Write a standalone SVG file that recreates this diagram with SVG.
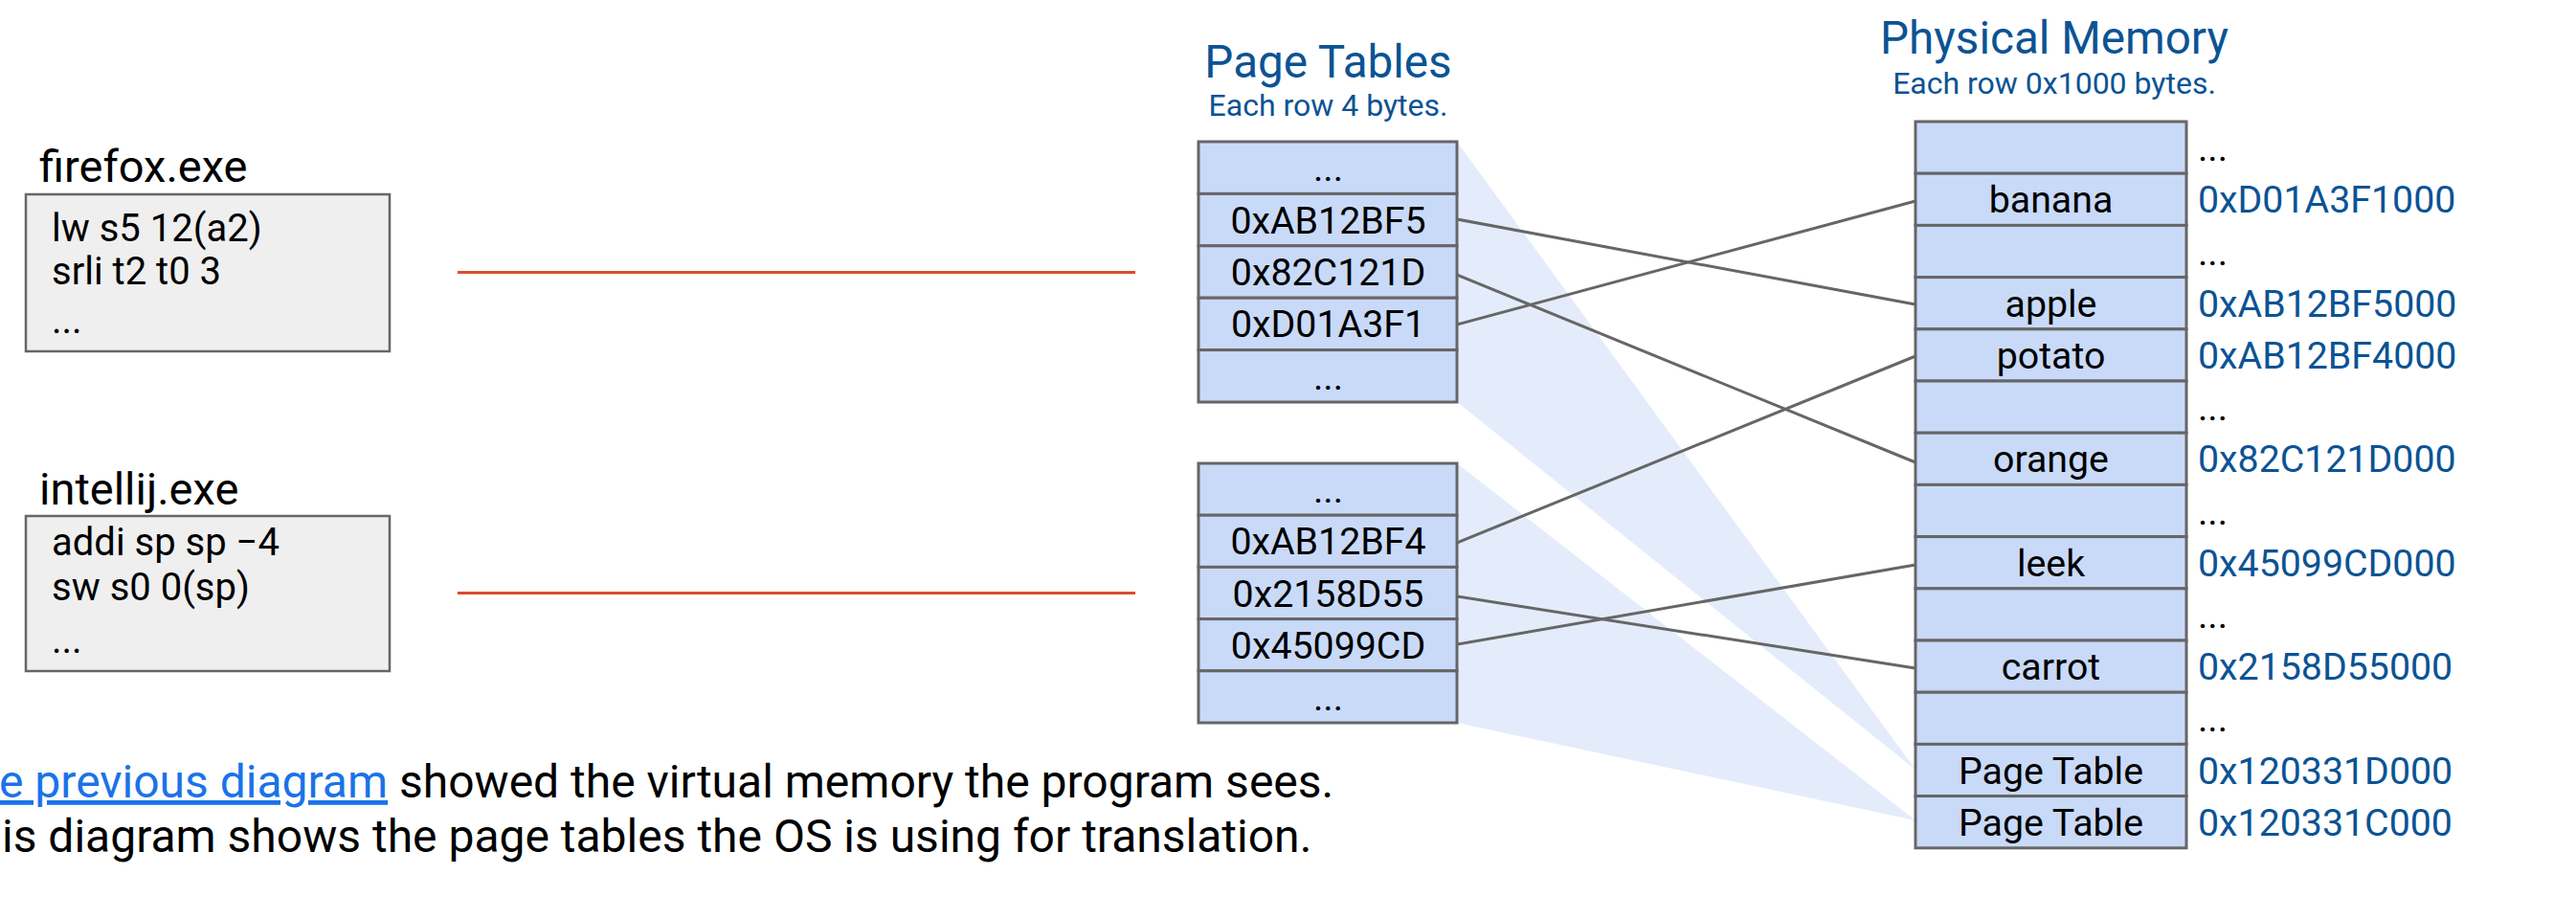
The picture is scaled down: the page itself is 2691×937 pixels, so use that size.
<svg xmlns="http://www.w3.org/2000/svg" width="2691" height="937" viewBox="0 0 2691 937">
<style>
text{font-family:Roboto,"Liberation Sans",sans-serif;fill:#000}
.cell{fill:#c9daf8;stroke:#666;stroke-width:3}
.box{fill:#efefef;stroke:#666;stroke-width:2.5}
.t39{font-size:39.3px}
.mid{text-anchor:middle}
.blue{fill:#0b5394}
.title{font-size:47.6px}
.sub{font-size:32px}
.conn{stroke:#666;stroke-width:3;fill:none}
.red{stroke:#dd4b2f;stroke-width:3;fill:none}
.wedge{fill:#c9daf8;opacity:0.5}
.body{font-size:40px}
.prog{font-size:47px}
.note{font-size:48px}
</style>
<rect width="2691" height="937" fill="#fff"/>
<g id="wedges">
<polygon class="wedge" points="1522,148 1522,420 2001,804"/>
<polygon class="wedge" points="1522,484 1522,755 2001,857"/>
</g>
<g id="firefox">
<text class="prog" x="41" y="190">firefox.exe</text>
<rect class="box" x="27" y="203" width="380" height="164"/>
<text class="body" x="54" y="252">lw s5 12(a2)</text>
<text class="body" x="54" y="297">srli t2 t0 3</text>
<text class="body" x="54" y="348">...</text>
</g>
<g id="intellij">
<text class="prog" x="41" y="527">intellij.exe</text>
<rect class="box" x="27" y="539" width="380" height="162"/>
<text class="body" x="54" y="580">addi sp sp −4</text>
<text class="body" x="54" y="627">sw s0 0(sp)</text>
<text class="body" x="54" y="682">...</text>
</g>
<g id="pagetables-title">
<text class="title blue mid" x="1387.5" y="81">Page Tables</text>
<text class="sub blue mid" x="1387.5" y="121">Each row 4 bytes.</text>
</g>
<g id="pagetable1">
<rect class="cell" x="1252" y="148" width="270" height="54.4"/>
<rect class="cell" x="1252" y="202.4" width="270" height="54.4"/>
<rect class="cell" x="1252" y="256.8" width="270" height="54.4"/>
<rect class="cell" x="1252" y="311.2" width="270" height="54.4"/>
<rect class="cell" x="1252" y="365.6" width="270" height="54.4"/>
<text class="t39 mid" x="1387.5" y="189">...</text>
<text class="t39 mid" x="1387.5" y="244">0xAB12BF5</text>
<text class="t39 mid" x="1387.5" y="298">0x82C121D</text>
<text class="t39 mid" x="1387.5" y="352">0xD01A3F1</text>
<text class="t39 mid" x="1387.5" y="407">...</text>
</g>
<g id="pagetable2">
<rect class="cell" x="1252" y="484" width="270" height="54.2"/>
<rect class="cell" x="1252" y="538.2" width="270" height="54.2"/>
<rect class="cell" x="1252" y="592.4" width="270" height="54.2"/>
<rect class="cell" x="1252" y="646.6" width="270" height="54.2"/>
<rect class="cell" x="1252" y="700.8" width="270" height="54.2"/>
<text class="t39 mid" x="1387.5" y="525">...</text>
<text class="t39 mid" x="1387.5" y="579">0xAB12BF4</text>
<text class="t39 mid" x="1387.5" y="634">0x2158D55</text>
<text class="t39 mid" x="1387.5" y="688">0x45099CD</text>
<text class="t39 mid" x="1387.5" y="742">...</text>
</g>
<g id="physmem-title">
<text class="title blue mid" x="2146" y="56">Physical Memory</text>
<text class="sub blue mid" x="2146" y="98">Each row 0x1000 bytes.</text>
</g>
<g id="physmem">
<rect class="cell" x="2001" y="127" width="283" height="54.2"/>
<rect class="cell" x="2001" y="181.2" width="283" height="54.2"/>
<rect class="cell" x="2001" y="235.4" width="283" height="54.2"/>
<rect class="cell" x="2001" y="289.6" width="283" height="54.2"/>
<rect class="cell" x="2001" y="343.8" width="283" height="54.2"/>
<rect class="cell" x="2001" y="398" width="283" height="54.2"/>
<rect class="cell" x="2001" y="452.2" width="283" height="54.2"/>
<rect class="cell" x="2001" y="506.4" width="283" height="54.2"/>
<rect class="cell" x="2001" y="560.6" width="283" height="54.2"/>
<rect class="cell" x="2001" y="614.8" width="283" height="54.2"/>
<rect class="cell" x="2001" y="669" width="283" height="54.2"/>
<rect class="cell" x="2001" y="723.2" width="283" height="54.2"/>
<rect class="cell" x="2001" y="777.4" width="283" height="54.2"/>
<rect class="cell" x="2001" y="831.6" width="283" height="54.2"/>
<text class="t39 mid" x="2142.5" y="222">banana</text>
<text class="t39 mid" x="2142.5" y="331">apple</text>
<text class="t39 mid" x="2142.5" y="385">potato</text>
<text class="t39 mid" x="2142.5" y="493">orange</text>
<text class="t39 mid" x="2142.5" y="602">leek</text>
<text class="t39 mid" x="2142.5" y="710">carrot</text>
<text class="t39 mid" x="2142.5" y="819">Page Table</text>
<text class="t39 mid" x="2142.5" y="873">Page Table</text>
</g>
<g id="physmem-addresses">
<text class="t39" x="2296" y="168">...</text>
<text class="t39 blue" x="2296" y="222">0xD01A3F1000</text>
<text class="t39" x="2296" y="277">...</text>
<text class="t39 blue" x="2296" y="331">0xAB12BF5000</text>
<text class="t39 blue" x="2296" y="385">0xAB12BF4000</text>
<text class="t39" x="2296" y="439">...</text>
<text class="t39 blue" x="2296" y="493">0x82C121D000</text>
<text class="t39" x="2296" y="548">...</text>
<text class="t39 blue" x="2296" y="602">0x45099CD000</text>
<text class="t39" x="2296" y="656">...</text>
<text class="t39 blue" x="2296" y="710">0x2158D55000</text>
<text class="t39" x="2296" y="764">...</text>
<text class="t39 blue" x="2296" y="819">0x120331D000</text>
<text class="t39 blue" x="2296" y="873">0x120331C000</text>
</g>
<g id="connectors">
<line class="red" x1="478" y1="284.5" x2="1186" y2="284.5"/>
<line class="red" x1="478" y1="619.5" x2="1186" y2="619.5"/>
<line class="conn" x1="1522" y1="229" x2="2001" y2="318"/>
<line class="conn" x1="1522" y1="287" x2="2001" y2="483"/>
<line class="conn" x1="1522" y1="339" x2="2001" y2="210"/>
<line class="conn" x1="1522" y1="567" x2="2001" y2="372"/>
<line class="conn" x1="1522" y1="623" x2="2001" y2="698"/>
<line class="conn" x1="1522" y1="673" x2="2001" y2="590"/>
</g>
<g id="note">
<text class="note" x="-1" y="833"><tspan fill="#1a73e8" style="fill:#1a73e8;text-decoration:underline">e previous diagram</tspan> showed the virtual memory the program sees.</text>
<text class="note" x="2" y="890">is diagram shows the page tables the OS is using for translation.</text>
</g>
</svg>
